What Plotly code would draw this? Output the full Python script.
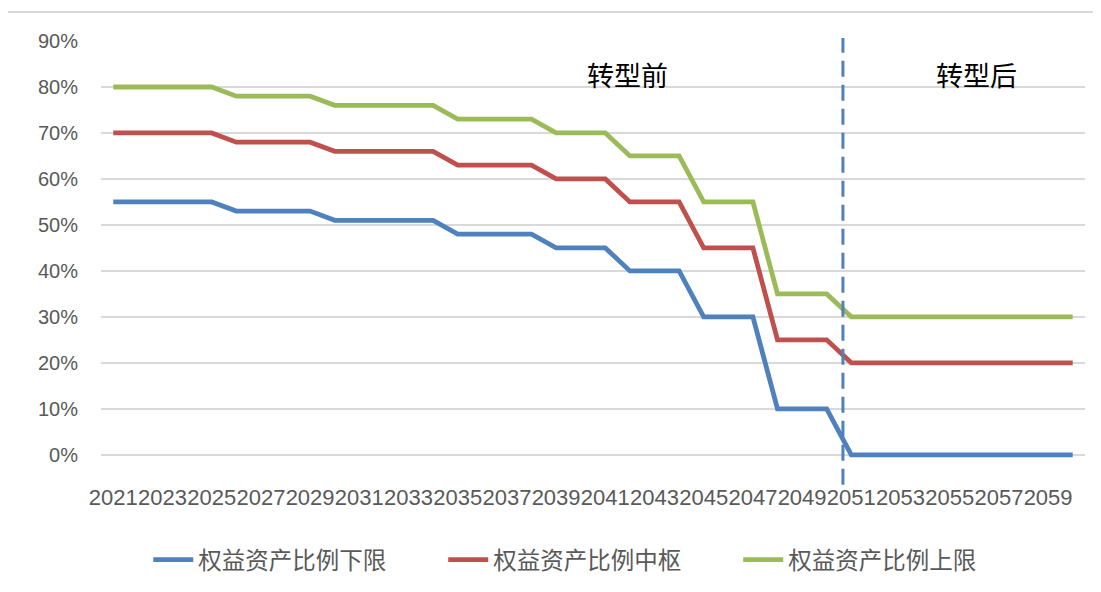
import plotly.graph_objects as go

years = list(range(2021, 2061))
lower = [55]*5 + [53]*4 + [51]*5 + [48]*4 + [45]*3 + [40]*3 + [30]*3 + [10]*3 + [0]*10
middle = [70]*5 + [68]*4 + [66]*5 + [63]*4 + [60]*3 + [55]*3 + [45]*3 + [25]*3 + [20]*10
upper = [80]*5 + [78]*4 + [76]*5 + [73]*4 + [70]*3 + [65]*3 + [55]*3 + [35]*3 + [30]*10
series_names = ["权益资产比例下限", "权益资产比例中枢", "权益资产比例上限"]
series_colors = ["#4f81bd", "#c0504d", "#9bbb59"]
transition_x = 2050.66
phase_labels = ["转型前", "转型后"]
phase_x = [2041.9, 2056.1]
phase_y = 0.827

fig = go.Figure()
for name, vals, col in zip(series_names, [lower, middle, upper], series_colors):
    fig.add_trace(go.Scatter(
        x=years, y=[v / 100 for v in vals], mode="lines", name=name,
        line=dict(color=col, width=4.8),
    ))

fig.add_shape(type="line", xref="x", yref="paper", x0=transition_x, x1=transition_x,
              y0=-0.049, y1=1.007, line=dict(color="#4f81bd", width=3, dash="16px,8px"))

# outer chart border (top and left visible)
fig.add_shape(type="line", xref="paper", yref="paper", x0=-0.0955, x1=1.1, y0=1.0685, y1=1.0685,
              line=dict(color="#d9d9d9", width=2))
fig.add_shape(type="line", xref="paper", yref="paper", x0=-0.0955, x1=-0.0955, y0=-0.4, y1=1.0685,
              line=dict(color="#d9d9d9", width=2))

for t, xv in zip(phase_labels, phase_x):
    fig.add_annotation(x=xv, y=phase_y, xref="x", yref="y", text=t, showarrow=False,
                       font=dict(family="Noto Sans CJK SC", size=27, color="#000000"))

fig.update_layout(
    width=1085, height=576,
    margin=dict(l=93, r=8, t=33, b=119.8, autoexpand=False),
    paper_bgcolor="white", plot_bgcolor="white",
    showlegend=True,
    legend=dict(orientation="h", x=0.048, y=-0.2264, xanchor="left", yanchor="middle",
                font=dict(family="Noto Sans CJK SC", size=23.5, color="#595959"),
                entrywidth=240, itemwidth=40, tracegroupgap=0),
)
fig.update_xaxes(range=[2020.5, 2060.5], tick0=2021, dtick=2, tickangle=0,
                 showgrid=False, zeroline=False, showline=False, automargin=False,
                 tickfont=dict(family="Liberation Sans", size=22, color="#595959"),
                 ticks="outside", ticklen=14, tickcolor="rgba(0,0,0,0)")
fig.update_yaxes(range=[-0.02, 0.9], tickvals=[i / 10 for i in range(10)], tickformat=".0%",
                 showgrid=True, gridcolor="#d9d9d9", gridwidth=1.5, zeroline=False,
                 showline=False, automargin=False,
                 tickfont=dict(family="Liberation Sans", size=20, color="#595959"),
                 ticks="outside", ticklen=18, tickcolor="rgba(0,0,0,0)")

fig.write_html("out.html")
